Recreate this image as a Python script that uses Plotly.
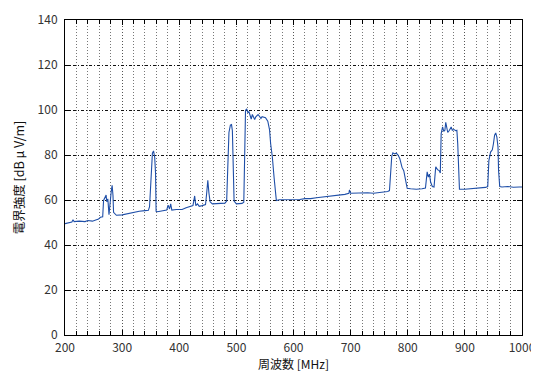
import plotly.graph_objects as go

freq_mhz = [200, 205, 212, 214, 216, 225, 235, 240, 248, 255, 258, 262, 266, 267.5, 270, 272, 273, 275, 277, 279,
            281, 282.5, 284, 285, 287, 290, 300, 310, 320, 330, 340, 346, 348, 349.5, 351, 353, 355, 357, 358.5, 359.5,
            362, 370, 378, 380.5, 383, 385, 387, 395, 405, 412, 418, 424, 427, 429, 432, 435, 440, 446, 448, 450,
            452, 454, 458, 470, 480, 483, 485, 487, 489.5, 491.5, 493, 494.5, 496, 500, 510, 513, 514.5, 516, 518, 520,
            522, 524, 526, 528, 530, 532, 534, 536, 538, 541, 543, 545, 548, 551, 555, 558, 560, 563, 566, 568.5,
            570, 575, 585, 595, 605, 611, 620, 630, 640, 650, 660, 669, 680, 690, 697, 698, 700, 710, 720, 730,
            740, 745, 755, 765, 768, 770, 772, 774, 777, 780, 783, 786, 790, 793, 796, 799, 805, 815, 825, 831,
            834, 836, 838, 840, 843, 846, 849, 852, 855, 857, 858.5, 861, 863, 865, 866.5, 868, 870, 873, 876, 878,
            881, 884, 886, 887.5, 889, 890.5, 900, 910, 920, 930, 936, 940, 942, 945, 948, 950, 952, 954, 956, 958,
            959, 961, 965, 975, 985, 995, 1000]

level_dbuv = [49.5, 49.8, 50.2, 51.2, 50.4, 50.6, 50.4, 50.9, 50.6, 51.2, 51.4, 52.3, 52.5, 59.8, 61.5, 62.2, 59.2, 60.5, 53.5, 60,
              64, 66.5, 62, 54.5, 54, 53.2, 53.4, 54, 54.4, 55, 55.3, 55.4, 57, 64, 74, 80.8, 81.8, 79, 72, 55,
              54.8, 55, 55.5, 57.7, 56, 58.3, 55.5, 55.8, 55.8, 56.6, 57, 57.5, 61.8, 57.5, 58.3, 57.2, 57.5, 58, 63, 68.7,
              63, 59.2, 58.3, 58.3, 58.6, 59.5, 75, 90, 93.3, 93.5, 90.8, 72.5, 59.5, 58.3, 58.5, 59, 80, 99.8, 100.5, 99,
              99.2, 97.5, 96, 98, 96.5, 95.8, 97, 97.5, 98, 97, 96.2, 97, 96.7, 96.6, 95, 91.3, 85, 79, 70, 62,
              59.8, 60.1, 60.1, 60.3, 60.2, 60.2, 60.6, 60.6, 61, 61.3, 61.5, 62, 62.2, 62.5, 63, 64.5, 63, 63.1, 63.3, 63.2,
              63, 63.1, 63.3, 63.8, 64.2, 72, 79.5, 81, 80.5, 80.8, 80, 78.5, 74.5, 73, 68.5, 65.2, 65, 64.8, 65, 65.3,
              72.5, 70.2, 71.5, 68, 66, 65.8, 74.8, 73.5, 73.1, 72, 89.5, 92.5, 90.5, 91, 94.5, 93, 90, 91, 92.5, 91,
              91.3, 90.8, 91, 85, 75, 64.8, 64.8, 65, 65, 65.2, 65.6, 66, 77.5, 81.3, 82.3, 85, 88.8, 89.8, 88, 83.5,
              73, 66, 65.8, 66, 65.7, 65.8, 65.8]

x_title = "周波数 [MHz]"
y_title = "電界強度 [dB μ V/m]"

font_family = "Noto Sans CJK JP, Noto Sans, sans-serif"

fig = go.Figure()
fig.add_trace(go.Scatter(x=freq_mhz, y=level_dbuv, mode="lines",
                         line=dict(color="#1f4fa8", width=1.1), showlegend=False))

# the page body adds an 8px offset, so the figure is sized to fit the window
fig.update_layout(
    width=531, height=370,
    margin=dict(l=57, r=17, t=12, b=43),
    paper_bgcolor="white", plot_bgcolor="white",
    font=dict(family=font_family, size=12, color="#222"),
)
fig.update_xaxes(
    range=[200, 1000], dtick=100, tick0=200, automargin=False,
    showline=True, linecolor="black", linewidth=1, mirror="ticks",
    ticks="inside", ticklen=5, tickcolor="black", ticklabelstandoff=2,
    showgrid=True, gridcolor="#555", griddash="1px,2px", gridwidth=1,
    minor=dict(dtick=20, ticks="inside", ticklen=4, tickcolor="black",
               showgrid=True, gridcolor="#777", griddash="1px,2px", gridwidth=1),
    zeroline=False,
    title=dict(text=x_title, font=dict(size=12, color="#111"), standoff=5),
    tickfont=dict(size=12, color="#333"),
)
fig.update_yaxes(
    range=[0, 140], dtick=20, automargin=False,
    showline=True, linecolor="black", linewidth=1, mirror="ticks",
    ticks="inside", ticklen=5, tickcolor="black", ticklabelstandoff=4,
    showgrid=True, gridcolor="#111", griddash="3px,2px,1px,2px", gridwidth=1,
    zeroline=False,
    title=dict(text=y_title, font=dict(size=12.5, color="#111"), standoff=10),
    tickfont=dict(size=12, color="#333"),
)

fig.write_html("out.html")
